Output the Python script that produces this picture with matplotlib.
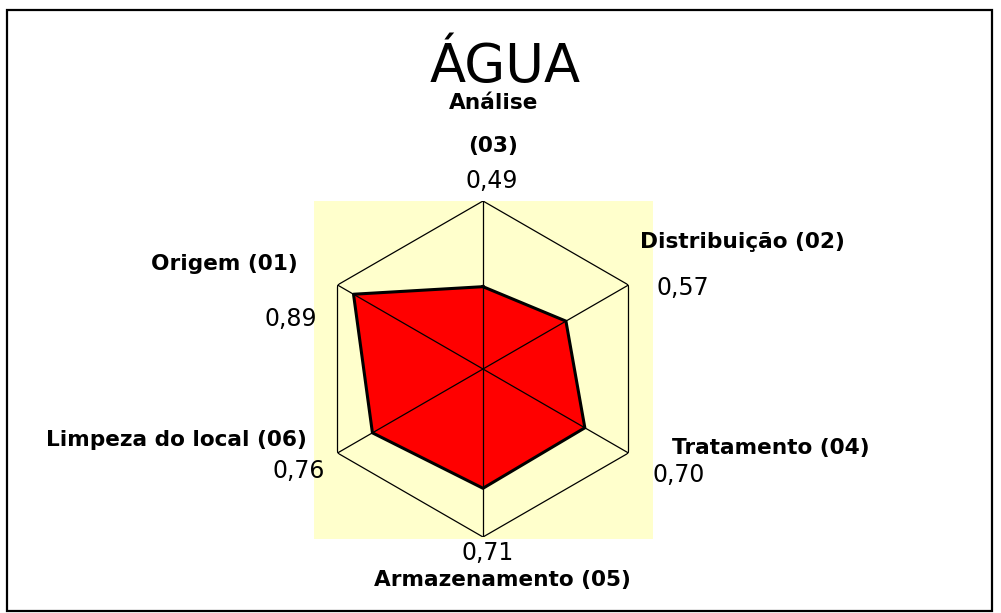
import numpy as np
import matplotlib
matplotlib.use("Agg")
import matplotlib.pyplot as plt
from matplotlib.patches import Rectangle

# ---- data ----
categories = ["Análise\n\n(03)", "Distribuição (02)", "Tratamento (04)",
              "Armazenamento (05)", "Limpeza do local (06)", "Origem (01)"]
values = [0.49, 0.57, 0.70, 0.71, 0.76, 0.89]
value_labels = ["0,49", "0,57", "0,70", "0,71", "0,76", "0,89"]
title = "ÁGUA"

W, H = 1001, 613
fig = plt.figure(figsize=(W / 100, H / 100), dpi=100)
fig.patch.set_facecolor("white")

def fx(px):
    return px / W

def fy(py):
    return 1 - py / H

# figure border
fig.add_artist(Rectangle((fx(6.5), fy(611)), fx(992) - fx(6.5), fy(10) - fy(611),
                         transform=fig.transFigure, fill=False, edgecolor="black",
                         linewidth=1.6, zorder=0))

# yellow plot area
bg = fig.add_axes([fx(314), fy(539), fx(653) - fx(314), fy(201) - fy(539)])
bg.set_facecolor("#FFFFCC")
bg.set_xticks([]); bg.set_yticks([])
for s in bg.spines.values():
    s.set_visible(False)

# radar
cx, cy, R = 483, 369, 168
ax = fig.add_axes([fx(cx - R), fy(cy + R), 2 * R / W, 2 * R / H], projection="polar")
ax.patch.set_alpha(0)
ax.set_theta_offset(np.pi / 2)
ax.set_theta_direction(-1)
ax.set_ylim(0, 1)
ax.grid(False)
ax.set_xticks([]); ax.set_yticks([])
ax.spines["polar"].set_visible(False)

n = len(values)
angles = np.linspace(0, 2 * np.pi, n, endpoint=False)
ang_c = np.concatenate([angles, angles[:1]])
ax.plot(ang_c, np.ones(n + 1), color="black", linewidth=0.9, zorder=3)
for a in angles:
    ax.plot([a, a], [0, 1], color="black", linewidth=0.9, zorder=3)
vals_c = np.concatenate([values, values[:1]])
ax.fill(ang_c, vals_c, facecolor="#FF0000", edgecolor="none", zorder=2)
ax.plot(ang_c, vals_c, color="black", linewidth=2.2, zorder=4)

# title
fig.text(fx(505), fy(82), title, ha="center", va="baseline", fontsize=38,
         family=["DejaVu Sans"])

lab_font = dict(fontsize=15.6, fontweight="bold", family=["DejaVu Sans"])
val_font = dict(fontsize=17, family=["DejaVu Sans"])

# category labels
fig.text(fx(494), fy(103), "Análise", ha="center", va="center", **lab_font)
fig.text(fx(493), fy(146), "(03)", ha="center", va="center", **lab_font)
fig.text(fx(640), fy(242), categories[1], ha="left", va="center", **lab_font)
fig.text(fx(870), fy(448), categories[2], ha="right", va="center", **lab_font)
fig.text(fx(502), fy(580), categories[3], ha="center", va="center", **lab_font)
fig.text(fx(307), fy(440), categories[4], ha="right", va="center", **lab_font)
fig.text(fx(298), fy(264), categories[5], ha="right", va="center", **lab_font)

# value labels
fig.text(fx(492), fy(181), value_labels[0], ha="center", va="center", **val_font)
fig.text(fx(656), fy(288), value_labels[1], ha="left", va="center", **val_font)
fig.text(fx(653), fy(475), value_labels[2], ha="left", va="center", **val_font)
fig.text(fx(488), fy(553), value_labels[3], ha="center", va="center", **val_font)
fig.text(fx(325), fy(471), value_labels[4], ha="right", va="center", **val_font)
fig.text(fx(317), fy(319), value_labels[5], ha="right", va="center", **val_font)

fig.savefig("out.png", dpi=100)
